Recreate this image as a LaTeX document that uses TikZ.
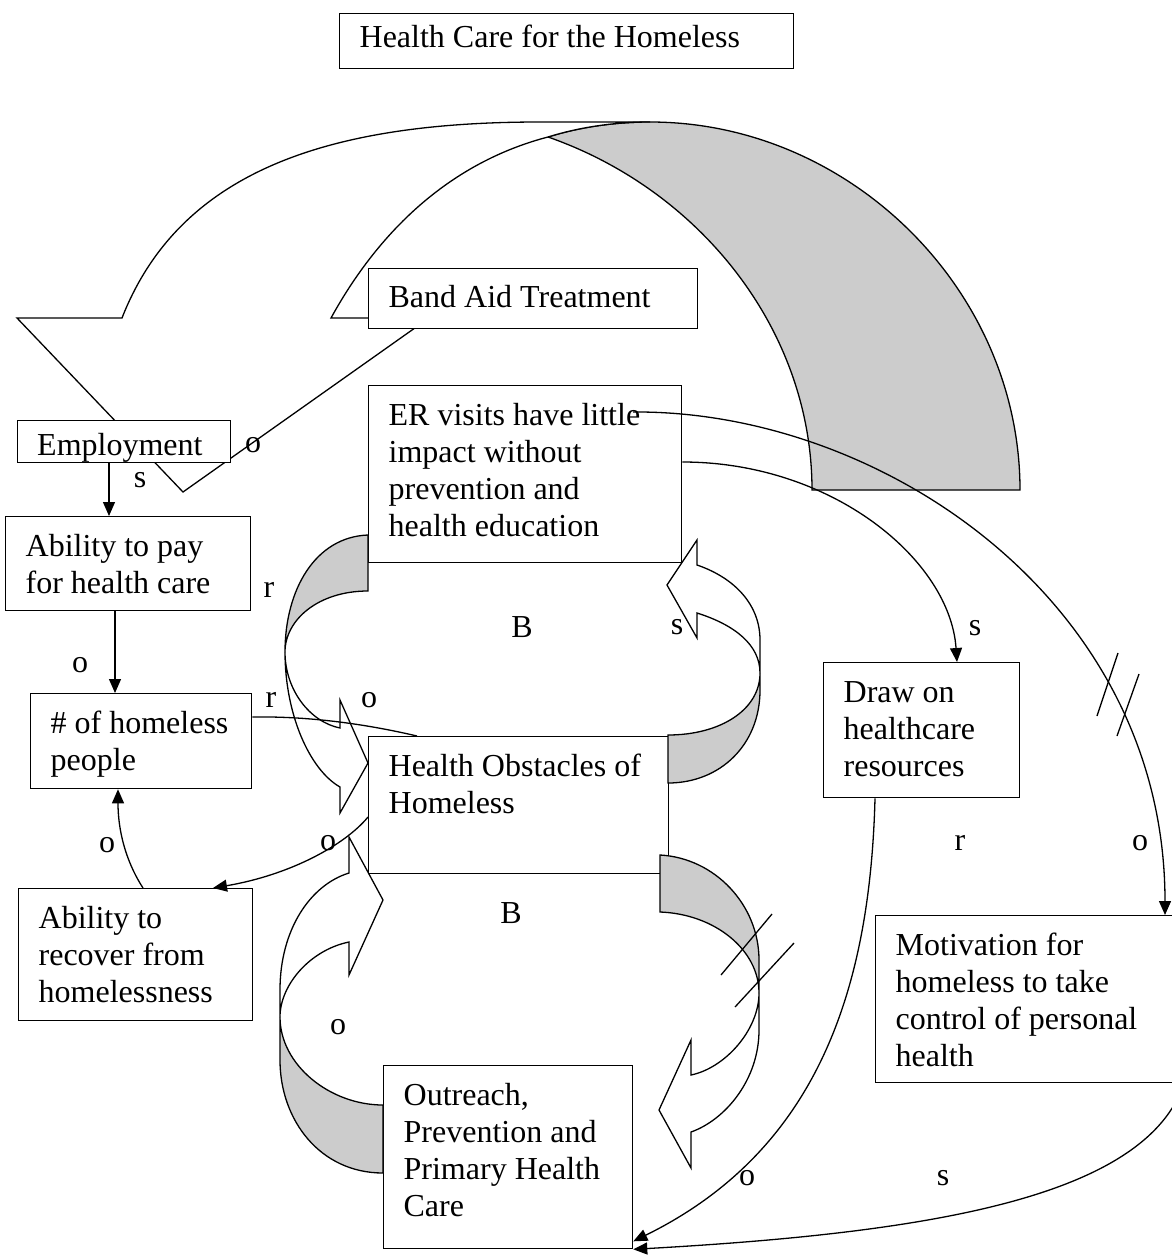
\documentclass[tikz,border=0pt]{standalone}
\usepackage{fontspec}
\setmainfont{Liberation Serif}
\usetikzlibrary{arrows.meta,calc}
\definecolor{ribbon}{gray}{0.8}
\tikzset{
  box/.style={draw, fill=white, line width=1.3pt, anchor=north west, inner xsep=20pt},
  ln/.style={line width=1.3pt},
  arr/.style={line width=1.3pt, -{Triangle[length=14pt,width=12pt]}},
  back/.style={draw, fill=ribbon, line width=1.3pt, line join=miter},
  front/.style={draw, fill=white, line width=1.3pt, line join=miter},
  lbl/.style={anchor=base, inner sep=0pt},
  slash/.style={line width=1.3pt},
}
\newcommand\hcbox[7]{\node[box, inner ysep=#6pt] (#1) at (#2,#3) {\parbox[t][\dimexpr #5pt-#6pt*2\relax][t]{\dimexpr #4pt-40pt\relax}{\raggedright\strut #7}};}
\begin{document}
\begin{tikzpicture}[x=1pt,y=-1pt,font=\fontsize{32}{37}\selectfont]
\fill[white] (0,0) rectangle (1171,1255);
\useasboundingbox (0,0) rectangle (1171,1255);

% big curved arrow (back and front)
\path[back] (812,490) -- (1020,490) .. controls (1020,290) and (850,122) .. (650,122)
  .. controls (615,122) and (580,127) .. (548,137) .. controls (700,190) and (812,330) .. (812,490) -- cycle;
\path[front] (650,122) -- (540,122) .. controls (330,122) and (180,170) .. (122,318) -- (17,318) -- (183,492)
  -- (429,318) -- (331,318) .. controls (385,220) and (460,160) .. (548,137)
  .. controls (580,127) and (615,122) .. (650,122) -- cycle;

% boxes
\hcbox{title}{339}{13}{454}{55}{8}{Health Care for the Homeless}
\hcbox{band}{368}{268}{329}{60}{13}{Band Aid Treatment}
\node[box, inner sep=0pt, minimum width=213pt, minimum height=42pt] (emp) at (17,420) {};
\begin{scope}
  \clip (17,420) rectangle (230,462);
  \node[anchor=base west, inner sep=0pt] (emptext) at (37,455) {Employment};
\end{scope}
\hcbox{er}{368}{385}{313}{177}{14}{ER visits have little\\impact without\\prevention and\\health education}
\hcbox{pay}{5}{516}{245}{94}{14}{Ability to pay\\for health care}
\hcbox{hom}{30}{693}{221}{95}{14}{\# of homeless\\people}
\hcbox{rec}{18}{888}{234}{132}{14}{Ability to\\recover from\\homelessness}
\hcbox{obs}{368}{736}{300}{137}{14}{Health Obstacles of\\Homeless}
\hcbox{out}{383}{1065}{249}{183}{14}{Outreach,\\Prevention and\\Primary Health\\Care}
\hcbox{drw}{823}{662}{196}{135}{14}{Draw on\\healthcare\\resources}
\hcbox{mot}{875}{915}{315}{167}{14}{Motivation for\\homeless to take\\control of personal\\health}

% loop 1 (left upper)
\path[back] (368,535) .. controls (315,537) and (285,590) .. (285,652) .. controls (285,620) and (318,591) .. (368,591) -- cycle;
\path[front] (285,652) .. controls (285,715) and (310,770) .. (340,787) -- (340,813) -- (368,763) -- (340,700) -- (340,728)
  .. controls (310,722) and (285,690) .. (285,652) -- cycle;
% loop 2 (right upper)
\path[back] (668,735) .. controls (720,735) and (760,710) .. (760,673) -- (760,690) .. controls (760,745) and (720,783) .. (668,783) -- cycle;
\path[front] (760,673) .. controls (760,645) and (735,625) .. (697,613) -- (697,638) -- (667,585) -- (697,540) -- (697,565)
  .. controls (735,578) and (760,605) .. (760,640) -- cycle;
% loop 3 (left lower)
\path[back] (383,1173) .. controls (320,1173) and (280,1120) .. (280,1060) -- (280,1017) .. controls (280,1065) and (330,1105) .. (383,1105) -- cycle;
\path[front] (280,1017) -- (280,990) .. controls (280,930) and (310,885) .. (349,873) -- (349,837) -- (383,900) -- (349,975) -- (349,942)
  .. controls (310,950) and (280,985) .. (280,1017) -- cycle;
% loop 4 (right lower)
\path[back] (660,855) .. controls (715,858) and (759,905) .. (759,960) -- (759,993) .. controls (759,950) and (715,914) .. (660,912) -- cycle;
\path[front] (759,993) -- (759,1030) .. controls (759,1080) and (725,1120) .. (691,1132) -- (691,1168) -- (659,1110) -- (691,1040) -- (691,1075)
  .. controls (725,1068) and (759,1030) .. (759,993) -- cycle;

% connectors
\draw[arr] ([xshift=92pt]emp.south west) -- ([xshift=104pt]pay.north west);
\draw[arr] ([xshift=110pt]pay.south west) -- ([xshift=85pt]hom.north west);
\draw[arr] ([xshift=125pt]rec.north west) .. controls +(-18,-28) and +(0,40) .. ([xshift=88pt]hom.south west);
\draw[arr] ($(obs.north west)+(0,81)$) .. controls +(-23,28) and +(77,-13) .. ([xshift=195pt]rec.north west);
\draw[ln] ($(hom.north east)+(0,24)$) .. controls +(60,-1) and +(-47,-11) .. ([xshift=49pt]obs.north west);
\draw[arr] ($(er.north east)+(0,77)$) .. controls +(150,0) and +(-7,-102) .. ([xshift=134pt]drw.north west);
\draw[arr] ($(er.north west)+(265,27)$) .. controls +(247,-2) and +(0,-315) .. ([xshift=290pt]mot.north west);
\draw[arr] ([xshift=52pt]drw.south west) .. controls +(-5,193) and +(183,-90) .. ($(out.south east)+(0,-8)$);
\draw[arr] ($(mot.south east)+(-2,-22)$) .. controls +(-18,130) and +(322,-18) .. (out.south east);

% slashes
\draw[slash] (721,975) -- (772,914);
\draw[slash] (735,1007) -- (794,943);
\draw[slash] (1097,716) -- (1118,653);
\draw[slash] (1117,736) -- (1139,674);

% labels
\node[lbl] (l1) at (140,487) {s};
\node[lbl] (l2) at (253,452) {o};
\node[lbl] (l3) at (269,597) {r};
\node[lbl] (l4) at (522,637) {B};
\node[lbl] (l5) at (677,634) {s};
\node[lbl] (l6) at (271,707) {r};
\node[lbl] (l7) at (369,707) {o};
\node[lbl] (l8) at (975,635) {s};
\node[lbl] (l9) at (80,672) {o};
\node[lbl] (l10) at (328,850) {o};
\node[lbl] (l11) at (107,852) {o};
\node[lbl] (l12) at (960,850) {r};
\node[lbl] (l13) at (1140,850) {o};
\node[lbl] (l14) at (511,923) {B};
\node[lbl] (l15) at (338,1034) {o};
\node[lbl] (l16) at (747,1185) {o};
\node[lbl] (l17) at (943,1185) {s};
\end{tikzpicture}
\end{document}
